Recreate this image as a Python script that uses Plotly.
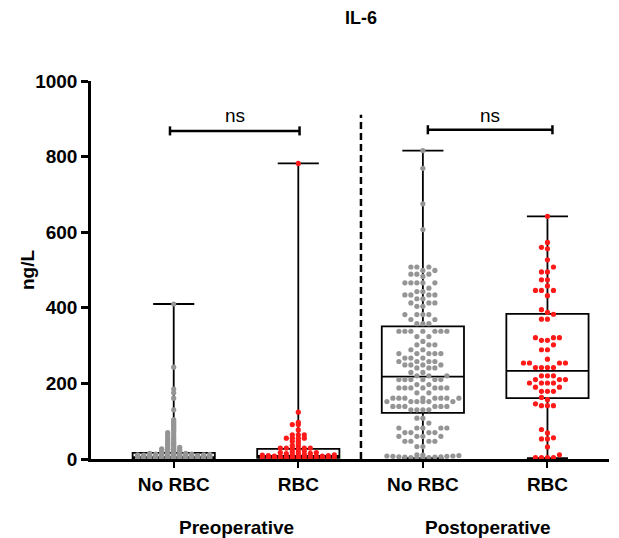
import plotly.graph_objects as go

# ---------------- data ----------------
categories = ["No RBC", "RBC", "No RBC", "RBC"]
groups = ["Preoperative", "Postoperative"]
y_ticks = [0, 200, 400, 600, 800, 1000]

pre_no_rbc = [410, 243, 185, 175, 161, 130,
              104, 99, 94, 90, 86, 82, 78, 74, 70, 67, 64, 61, 58, 55, 52, 50, 48, 45,
              43, 41, 39, 37, 35, 33, 31, 30, 28, 27, 26, 25, 24, 23, 22, 21, 20, 19,
              18, 17, 16, 15, 15, 14, 14, 13, 13, 12, 12, 12, 11, 11, 11, 10, 10, 10,
              9, 9, 9, 9, 9, 9, 8, 8, 8, 8, 8, 8, 7, 7, 7, 7, 7, 7, 7, 6, 6, 6, 6, 6, 6, 6,
              5, 5, 5, 5, 5, 5, 5, 5, 4, 4, 4, 4, 4, 4, 4, 4, 3, 3, 3, 3, 3, 3, 3, 3,
              2, 2, 2, 2, 2, 2, 2, 1, 1, 1, 1, 1, 1, 0, 0, 0, 0]

pre_rbc = [782, 124, 97, 91, 91, 77, 64, 64, 64, 55, 55, 55, 55, 47, 47, 40, 36, 33,
           29, 29, 29, 29, 29, 25, 22, 20, 17, 17, 17, 15, 14, 12, 12, 11, 10, 10, 9, 9,
           8, 8, 8, 7, 7, 6, 6, 6, 5, 5, 5, 4, 4, 4, 3, 3, 3, 2, 2, 2, 1, 1]

post_no_rbc = [816, 769, 675, 607,
               508, 508, 508, 499, 499, 489, 489, 489, 483,
               466, 466, 466, 466, 466, 452, 443, 443, 434, 434, 434, 434, 424, 424,
               413, 413, 413, 404, 404,
               382, 382, 382, 382, 369, 369, 358, 358, 358,
               338, 338, 338, 338, 338, 338, 338, 324, 324, 311, 302, 302, 302, 289, 289,
               279, 279, 279, 279, 279, 267, 267, 267, 258, 258, 258, 258,
               249, 249, 249, 249, 241, 241, 241,
               229, 229, 220, 220, 220, 210, 210, 210, 210, 210, 210, 197, 197,
               188, 188, 188, 188, 188, 188, 188, 175, 175,
               161, 161, 161, 161, 161, 161, 161, 161, 152, 152, 152, 152, 152, 152,
               139, 139, 139, 139, 139, 139, 130, 130, 130, 130,
               108, 108, 95, 82, 82, 82, 82, 82, 70, 70, 70, 70, 60, 60, 60, 60,
               47, 47, 47, 47, 33, 33,
               11, 10, 9, 8, 8, 7, 7, 6, 6, 5, 5, 4, 4, 3, 3]

post_rbc = [642, 573, 560, 556, 527, 508, 495, 495, 474, 474, 458, 446, 446, 446, 432,
            395, 388, 383, 370, 370, 321, 321, 321, 314, 314, 302, 289, 289, 264,
            254, 254, 254, 254, 242, 242, 242, 242, 220, 220, 220, 210, 210, 210,
            201, 201, 201, 201, 190, 190, 179, 179, 179, 163, 157, 146, 141, 141, 141,
            78, 69, 56, 53, 53, 32, 11, 4, 4, 4, 4]

# box statistics (min-max whiskers) as drawn
box_q1 = [2, 3, 122, 161]
box_median = [5, 8, 218, 233]
box_q3 = [16, 27, 351, 384]
box_min = [0, 1, 2, 2]
box_max = [410, 782, 816, 642]

series = [pre_no_rbc, pre_rbc, post_no_rbc, post_rbc]
colors = ["#959595", "#ff1a1a", "#959595", "#ff1a1a"]

# ---------------- layout constants ----------------
PAGE_OFF = 8                      # default page margin of the html body
W, H = 619 - PAGE_OFF, 538 - PAGE_OFF
ML, MR, MT = 91 - PAGE_OFF, 10, 81 - PAGE_OFF
MB = H - (459 - PAGE_OFF)
X_RANGE = [-0.664, 3.494]
Y_RANGE = [0, 1000]
px_per_x = (W - ML - MR) / (X_RANGE[1] - X_RANGE[0])
px_per_y = (H - MT - MB) / (Y_RANGE[1] - Y_RANGE[0])


def swarm(values, d, step=6.0, maxoff=40.0):
    """Beeswarm horizontal offsets (data units) computed from the values."""
    cands = [0.0]
    k = 1
    while k * step <= maxoff:
        cands += [-k * step, k * step]
        k += 1
    placed = []
    res = [0.0] * len(values)
    order = sorted(range(len(values)), key=lambda i: values[i])
    for i in order:
        y = values[i] * px_per_y
        best, bestd = 0.0, -1.0
        near = [(px, py) for px, py in placed if abs(y - py) < d]
        for c in cands:
            md = min((((c - px) ** 2 + (y - py) ** 2) ** 0.5 for px, py in near), default=99.0)
            if md >= d:
                best = c
                break
            if md > bestd:
                bestd, best = md, c
        placed.append((best, y))
        res[i] = best / px_per_x
    return res


fig = go.Figure()

fig.add_trace(go.Box(
    x=[0, 1, 2, 3], q1=box_q1, median=box_median, q3=box_q3,
    lowerfence=box_min, upperfence=box_max,
    width=0.66, whiskerwidth=0.5, boxpoints=False,
    line=dict(color="black", width=1.8), fillcolor="rgba(0,0,0,0)",
    showlegend=False, hoverinfo="skip",
))

dens = [1.4, 2.2, 5.6, 5.6]
for i, vals in enumerate(series):
    offs = swarm(vals, dens[i])
    fig.add_trace(go.Scatter(
        x=[i + o for o in offs], y=vals, mode="markers",
        marker=dict(color=colors[i], size=5.2, line=dict(width=0)),
        cliponaxis=False, showlegend=False, hoverinfo="skip",
    ))

FONT = "Liberation Sans, Arial, sans-serif"

shapes = []
# dashed separator between groups
sep_x = 1.503
shapes.append(dict(type="line", xref="x", yref="y", x0=sep_x, x1=sep_x, y0=0, y1=911,
                   line=dict(color="black", width=2.5, dash="7px,4px")))
# significance brackets
brackets = [(-0.03, 1.01, 868), (2.04, 3.04, 871)]
for x0, x1, yb in brackets:
    shapes.append(dict(type="line", xref="x", yref="y", x0=x0, x1=x1, y0=yb, y1=yb,
                       line=dict(color="black", width=2.5)))
    for xx in (x0, x1):
        shapes.append(dict(type="line", xref="x", yref="y", x0=xx, x1=xx, y0=yb - 12, y1=yb + 12,
                           line=dict(color="black", width=2.5)))

annotations = []
for x0, x1, yb in brackets:
    annotations.append(dict(x=(x0 + x1) / 2, y=908, xref="x", yref="y", text="ns",
                            showarrow=False, font=dict(family=FONT, size=19, color="black"),
                            yanchor="middle"))
plot_h = H - MT - MB
for gi, g in enumerate(groups):
    annotations.append(dict(x=0.5 + 2 * gi + (0.02 if gi == 1 else 0),
                            y=-(527 - 459) / plot_h, xref="x", yref="paper",
                            text="<b>%s</b>" % g, showarrow=False,
                            font=dict(family=FONT, size=19, color="black"), yanchor="middle"))
# y-axis title
plot_w = W - ML - MR
annotations.append(dict(x=-(91 - 27) / plot_w, y=0.5, xref="paper", yref="paper",
                        text="<b>ng/L</b>", textangle=-90, showarrow=False,
                        xanchor="center", yanchor="middle",
                        font=dict(family=FONT, size=19, color="black")))

fig.update_layout(
    width=W, height=H,
    margin=dict(l=ML, r=MR, t=MT, b=MB, pad=0),
    paper_bgcolor="white", plot_bgcolor="white",
    title=dict(text="<b>IL-6</b>", x=(361 - PAGE_OFF) / W, xref="container", xanchor="center",
               y=1 - (18 - PAGE_OFF) / H, yref="container", yanchor="middle",
               font=dict(family=FONT, size=18, color="black")),
    font=dict(family=FONT, color="black"),
    shapes=shapes, annotations=annotations,
    xaxis=dict(range=X_RANGE, tickmode="array", tickvals=[0, 1, 2, 3],
               ticktext=["<b>%s</b>" % c for c in categories],
               tickfont=dict(family=FONT, size=19, color="black"),
               showline=True, linecolor="black", linewidth=2.5,
               ticks="outside", ticklen=6, tickwidth=2, tickcolor="black",
               showgrid=False, zeroline=False),
    yaxis=dict(range=Y_RANGE, tickmode="array", tickvals=y_ticks,
               ticktext=["<b>%d</b>" % t for t in y_ticks],
               tickfont=dict(family=FONT, size=19, color="black"),
               showline=True, linecolor="black", linewidth=2.5,
               ticks="outside", ticklen=7, tickwidth=2.5, tickcolor="black",
               showgrid=False, zeroline=False),
)

fig.write_html("out.html")
